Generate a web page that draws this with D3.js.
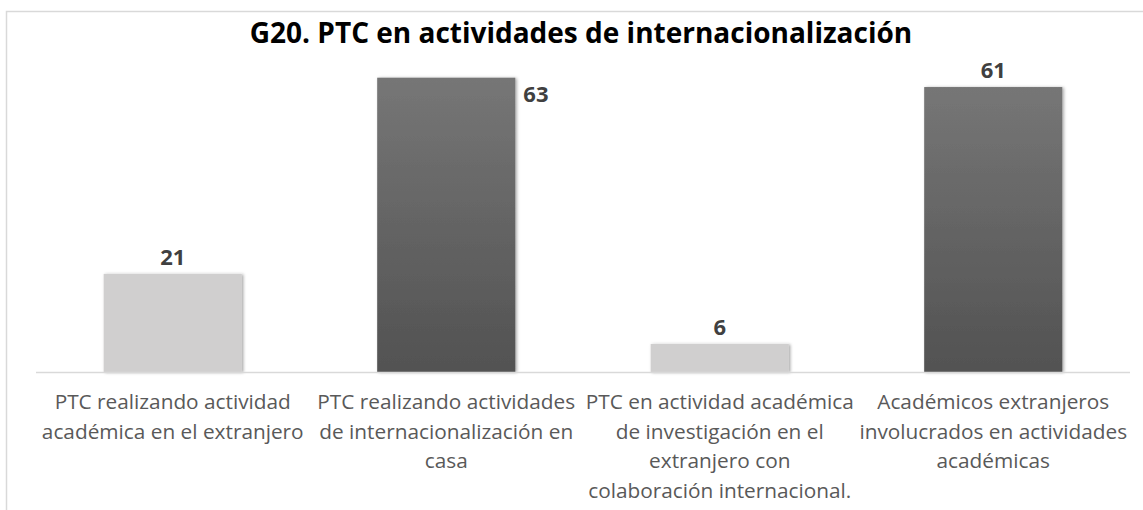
<!DOCTYPE html>
<html>
<head>
<meta charset="utf-8">
<script src="https://cdn.jsdelivr.net/npm/d3@7"></script>
<style>
  body { margin: 0; background: #fff; }
  svg { display: block; }
</style>
</head>
<body>
<svg id="chart" width="1143" height="510"></svg>
<script>
// chart data
const title = "G20. PTC en actividades de internacionalización";
const categories = [
    ["PTC realizando actividad", "académica en el extranjero"],
    ["PTC realizando actividades", "de internacionalización en", "casa"],
    ["PTC en actividad académica", "de investigación en el", "extranjero con", "colaboración internacional."],
    ["Académicos extranjeros", "involucrados en actividades", "académicas"]
];
const values = [21, 63, 6, 61];
const tones = ["light", "dark", "light", "dark"];
const labelSide = ["top", "right", "top", "top"];

const svg = d3.select("#chart");
const width = +svg.attr("width");
const height = +svg.attr("height");

const margin = { top: 45, right: 13, bottom: 138, left: 36 };
const baseY = height - margin.bottom;

// gradients + shadow
const defs = svg.append("defs");
const dark = defs.append("linearGradient")
    .attr("id", "darkGrad")
    .attr("x1", 0).attr("y1", 0).attr("x2", 0).attr("y2", 1);
dark.append("stop").attr("offset", "0%").attr("stop-color", "#767676");
dark.append("stop").attr("offset", "100%").attr("stop-color", "#525252");

const shadow = defs.append("filter")
    .attr("id", "shadow")
    .attr("x", "-10%").attr("y", "-10%")
    .attr("width", "130%").attr("height", "130%");
shadow.append("feDropShadow")
    .attr("dx", 1.5).attr("dy", 0.5)
    .attr("stdDeviation", 1.5)
    .attr("flood-color", "#000")
    .attr("flood-opacity", 0.35);

// frame (only top and left edges visible)
svg.append("path")
    .attr("d", `M6.5,${height} V11.5 H${width}`)
    .attr("fill", "none")
    .attr("stroke", "#d9d9d9")
    .attr("stroke-width", 1.5);

const x = d3.scaleBand()
    .domain(d3.range(categories.length))
    .range([margin.left, width - margin.right])
    .paddingInner(0.495)
    .paddingOuter(0.2475);

const y = d3.scaleLinear()
    .domain([0, 70])
    .range([baseY, margin.top]);

// bars
svg.append("g")
    .selectAll("rect")
    .data(values)
    .join("rect")
    .attr("x", (d, i) => x(i))
    .attr("y", d => y(d))
    .attr("width", x.bandwidth())
    .attr("height", d => y(0) - y(d))
    .attr("fill", (d, i) => tones[i] === "dark" ? "url(#darkGrad)" : "#d0cfcf")
    .attr("filter", "url(#shadow)");

// x axis line
svg.append("line")
    .attr("x1", margin.left)
    .attr("x2", width - margin.right)
    .attr("y1", baseY + 0.5)
    .attr("y2", baseY + 0.5)
    .attr("stroke", "#d9d9d9")
    .attr("stroke-width", 1.5);

// category labels
const catG = svg.append("g")
    .attr("font-family", "'Open Sans', sans-serif")
    .attr("font-size", 20.8)
    .attr("fill", "#595959")
    .attr("text-anchor", "middle");

categories.forEach((lines, i) => {
    const cx = x(i) + x.bandwidth() / 2;
    const t = catG.append("text");
    lines.forEach((ln, k) => {
        t.append("tspan")
            .attr("x", cx)
            .attr("y", baseY + 37 + k * 29.6)
            .text(ln);
    });
});

// value labels
svg.append("g")
    .selectAll("text")
    .data(values)
    .join("text")
    .attr("font-family", "'Open Sans', sans-serif")
    .attr("font-weight", 700)
    .attr("font-size", 22)
    .attr("fill", "#404040")
    .attr("text-anchor", (d, i) => labelSide[i] === "right" ? "start" : "middle")
    .attr("x", (d, i) => labelSide[i] === "right"
        ? x(i) + x.bandwidth() + 8
        : x(i) + x.bandwidth() / 2)
    .attr("y", (d, i) => labelSide[i] === "right" ? y(d) + 24 : y(d) - 9)
    .text(d => d);

// title
svg.append("text")
    .attr("x", 581)
    .attr("y", 43)
    .attr("text-anchor", "middle")
    .attr("font-family", "'Open Sans', sans-serif")
    .attr("font-weight", 700)
    .attr("font-size", 28)
    .attr("fill", "#000")
    .text(title);
</script>
</body>
</html>
